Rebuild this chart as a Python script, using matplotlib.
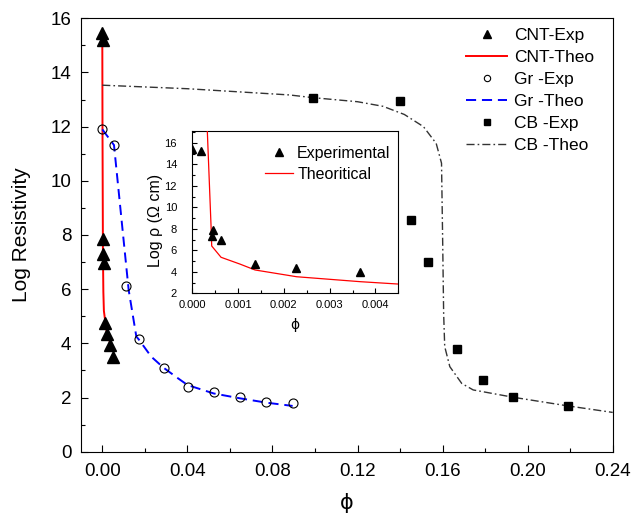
import matplotlib
matplotlib.use("Agg")
import matplotlib.pyplot as plt
from matplotlib.ticker import MultipleLocator

plt.rcParams['font.family'] = ['Liberation Sans', 'DejaVu Sans']

# ---- data: volume fraction phi vs log resistivity ----
cnt_exp_phi = [0.0, 0.00018, 0.00046, 0.00043, 0.00063, 0.00137, 0.00226, 0.00367, 0.0049]
cnt_exp = [15.45, 15.2, 7.85, 7.3, 6.98, 4.75, 4.35, 3.95, 3.5]

cnt_theo_phi = [0.0, 0.0001, 0.0003, 0.0005, 0.00075, 0.0019, 0.0042]
cnt_theo = [15.5, 11.8, 7.4, 5.9, 5.2, 4.5, 3.88]

gr_exp_phi = [0.0, 0.0055, 0.011, 0.0171, 0.0288, 0.0401, 0.0524, 0.0648, 0.0772, 0.0897]
gr_exp = [11.9, 11.32, 6.12, 4.15, 3.10, 2.40, 2.19, 2.03, 1.85, 1.80]

gr_theo_phi = [0.0, 0.0055, 0.0097, 0.0124, 0.016, 0.0171, 0.023, 0.0288, 0.0356,
               0.0401, 0.0524, 0.0648, 0.0772, 0.0895]
gr_theo = [11.9, 11.32, 8.06, 5.97, 4.25, 4.15, 3.51, 3.10, 2.71, 2.46, 2.15, 1.97, 1.81, 1.69]

cb_exp_phi = [0.0991, 0.140, 0.145, 0.153, 0.1666, 0.179, 0.1932, 0.219]
cb_exp = [13.07, 12.93, 8.54, 7.01, 3.78, 2.65, 2.01, 1.69]

cb_theo_phi = [0.0, 0.04, 0.088, 0.099, 0.12, 0.132, 0.142, 0.151, 0.157, 0.1595, 0.160,
               0.1605, 0.161, 0.1634, 0.169, 0.1744, 0.1932, 0.219, 0.24]
cb_theo = [13.53, 13.4, 13.17, 13.07, 12.92, 12.75, 12.45, 12.0, 11.38, 10.65, 8.0,
           5.1, 3.88, 3.14, 2.52, 2.28, 2.01, 1.69, 1.45]

# inset (zoom on CNT) theory curve
inset_theo_phi = [0.00031, 0.000328, 0.00041, 0.000424, 0.000628, 0.00104, 0.00137,
                  0.00228, 0.00367, 0.0045]
inset_theo = [19.0, 17.1, 8.2, 6.4, 5.35, 4.72, 4.17, 3.54, 3.08, 2.86]

main_xticks = [0.00, 0.04, 0.08, 0.12, 0.16, 0.20, 0.24]
inset_xticks = [0.000, 0.001, 0.002, 0.003, 0.004]

fig = plt.figure(figsize=(6.41, 5.15), dpi=100)

# ---- main axes ----
ax = fig.add_axes([0.1264, 0.1229, 0.8295, 0.8416])
h1, = ax.plot(cnt_exp_phi, cnt_exp, ls='none', marker='^', ms=8, color='black', zorder=4)
h2, = ax.plot(cnt_theo_phi, cnt_theo, color='#ff0000', lw=1.4, zorder=3)
h3, = ax.plot(gr_exp_phi, gr_exp, ls='none', marker='o', ms=6.5, mfc='none',
              mec='black', mew=0.8, zorder=4)
h4, = ax.plot(gr_theo_phi, gr_theo, color='#0000ff', lw=1.4, dashes=(5.2, 3.0), zorder=3)
h5, = ax.plot(cb_exp_phi, cb_exp, ls='none', marker='s', ms=6.3, color='black', zorder=4)
h6, = ax.plot(cb_theo_phi, cb_theo, color='#333333', lw=1.0,
              dashes=(5.8, 2.2, 1.2, 2.2), zorder=3)

ax.set_xlim(-0.01, 0.24)
ax.set_ylim(0, 16)
ax.set_xticks(main_xticks)
ax.set_xticklabels([f"{t:.2f}" for t in main_xticks])
ax.xaxis.set_minor_locator(MultipleLocator(0.02))
ax.yaxis.set_major_locator(MultipleLocator(2))
ax.yaxis.set_minor_locator(MultipleLocator(1))
ax.tick_params(which='both', direction='in', width=0.8, labelsize=13.5)
ax.tick_params(which='major', length=5)
ax.tick_params(which='minor', length=3)
ax.tick_params(axis='x', which='major', pad=8)
ax.tick_params(axis='y', which='major', pad=7)
for sp in ax.spines.values():
    sp.set_linewidth(0.8)

ax.set_ylabel("Log Resistivity", fontsize=15)
ax.yaxis.set_label_coords(-0.095, 0.5)
ax.set_xlabel("ϕ", fontsize=15, family=['DejaVu Sans'])
ax.xaxis.set_label_coords(0.5, -0.095)

ax.legend([h1, h2, h3, h4, h5, h6],
          ["CNT-Exp", "CNT-Theo", "Gr -Exp", "Gr -Theo", "CB -Exp", "CB -Theo"],
          loc='upper left', bbox_to_anchor=(0.7237, 0.978), frameon=False,
          fontsize=12.5, handlelength=2.4, handletextpad=0.4, labelspacing=0.4,
          borderpad=0, borderaxespad=0, markerscale=0.7, numpoints=1)

# ---- inset ----
ins = fig.add_axes([0.3000, 0.4305, 0.3214, 0.3151])
ins.plot(cnt_exp_phi, cnt_exp, ls='none', marker='^', ms=5.5, color='black',
         label='Experimental', zorder=4)
ins.plot(inset_theo_phi, inset_theo, color='#ff0000', lw=0.9, label='Theoritical', zorder=3)
ins.set_xlim(0, 0.0045)
ins.set_ylim(2, 17.1)
ins.set_xticks(inset_xticks)
ins.set_xticklabels([f"{t:.3f}" for t in inset_xticks])
ins.xaxis.set_minor_locator(MultipleLocator(0.0005))
ins.yaxis.set_major_locator(MultipleLocator(2))
ins.yaxis.set_minor_locator(MultipleLocator(1))
ins.tick_params(which='both', direction='in', width=0.8, labelsize=8)
ins.tick_params(which='major', length=3.6)
ins.tick_params(which='minor', length=2)
ins.tick_params(axis='x', which='major', pad=5)
ins.tick_params(axis='y', which='major', pad=11)
for sp in ins.spines.values():
    sp.set_linewidth(0.8)
ins.set_ylabel("Log ρ (Ω cm)", fontsize=11.5)
ins.yaxis.set_label_coords(-0.14, 0.45)
ins.set_xlabel("ϕ", fontsize=10, family=['DejaVu Sans'])
ins.xaxis.set_label_coords(0.5, -0.15)
ins.legend(loc='upper left', bbox_to_anchor=(0.354, 0.91), frameon=False,
           fontsize=11.5, handlelength=1.75, handletextpad=0.25, labelspacing=0.38,
           borderpad=0, borderaxespad=0, numpoints=1)

fig.savefig("out.png", dpi=100)
